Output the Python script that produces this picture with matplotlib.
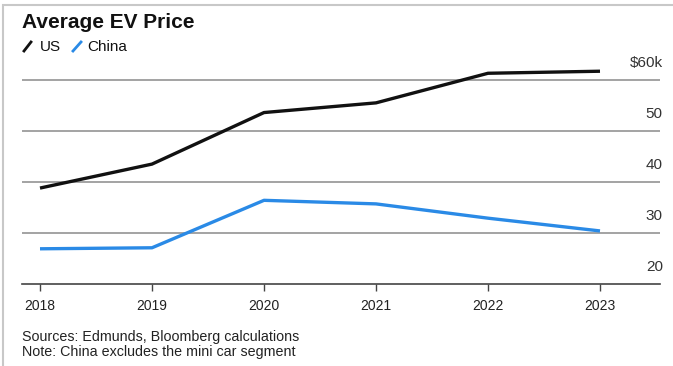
"""
Average EV Price: US vs China, 2018-2023
"""

import matplotlib.pyplot as plt
from matplotlib import font_manager
from matplotlib.lines import Line2D
from matplotlib.patches import Rectangle

plt.rcParams['font.family'] = ['Liberation Sans', 'DejaVu Sans']

# data ($k)
years = [2018, 2019, 2020, 2021, 2022, 2023]
us_price = [38.8, 43.5, 53.6, 55.5, 61.3, 61.7]
china_price = [26.9, 27.1, 36.4, 35.7, 32.9, 30.4]
y_ticks = [20, 30, 40, 50, 60]
y_labels = ['20', '30', '40', '50', '$60k']

US_COLOR = '#111111'
CHINA_COLOR = '#2a8ae6'

# footer is set in a narrow face if there is one
try:
    font_manager.findfont('Liberation Sans Narrow', fallback_to_default=False)
    foot_family, foot_size = ['Liberation Sans Narrow', 'DejaVu Sans'], 12
except ValueError:
    foot_family, foot_size = ['Liberation Sans', 'DejaVu Sans'], 10.3

W, H = 673, 366
fig = plt.figure(figsize=(W / 100, H / 100), dpi=100)
fig.patch.set_facecolor('white')

# light frame along top and left, like the screenshot
fig.add_artist(Rectangle((3 / W, -0.1), 1.2, 1.1 - 5 / H, transform=fig.transFigure,
                         fill=False, edgecolor='#c8c8c8', lw=1.5))

ax = fig.add_axes([22 / W, 1 - 284 / H, (660 - 22) / W, (284 - 60) / H])
ax.plot(years, us_price, color=US_COLOR, lw=2.4, solid_capstyle='butt', zorder=3)
ax.plot(years, china_price, color=CHINA_COLOR, lw=2.4, solid_capstyle='butt', zorder=3)

ax.set_xlim(2018 - 18 / 112, 2023 + 60 / 112)
ax.set_ylim(20, 63.9)

for s in ['top', 'right', 'left']:
    ax.spines[s].set_visible(False)
ax.spines['bottom'].set_color('#444444')
ax.spines['bottom'].set_linewidth(1.2)

ax.set_xticks(years)
ax.set_xticklabels([str(y) for y in years], fontsize=10, color='#222222')
ax.tick_params(axis='x', length=5, width=1, color='#444444', pad=6)
ax.set_yticks([])

for v, lab in zip(y_ticks, y_labels):
    if v > 20:
        ax.axhline(v, color='#8a8a8a', lw=1.1, zorder=1)
    ax.annotate(lab, xy=(1.0, v), xycoords=('axes fraction', 'data'),
                xytext=(2, 7), textcoords='offset points',
                ha='right', va='bottom', fontsize=11, color='#333333')

# title and legend
fig.text(22 / W, 1 - 28 / H, 'Average EV Price', fontsize=15, fontweight='bold',
         color='#111111', ha='left', va='baseline')
fig.add_artist(Line2D([24 / W, 31 / W], [1 - 51 / H, 1 - 42 / H], color=US_COLOR, lw=2,
                      transform=fig.transFigure))
fig.text(40 / W, 1 - 51 / H, 'US', fontsize=11, color='#111111', va='baseline')
fig.add_artist(Line2D([73 / W, 81 / W], [1 - 51 / H, 1 - 42 / H], color=CHINA_COLOR, lw=2,
                      transform=fig.transFigure))
fig.text(87 / W, 1 - 51 / H, 'China', fontsize=11, color='#111111', va='baseline')

# footer
fig.text(22 / W, 1 - 341 / H, 'Sources: Edmunds, Bloomberg calculations', fontsize=foot_size,
         family=foot_family, color='#222222', va='baseline')
fig.text(22 / W, 1 - 356 / H, 'Note: China excludes the mini car segment', fontsize=foot_size,
         family=foot_family, color='#222222', va='baseline')

fig.savefig('out.png', dpi=100, facecolor='white')
